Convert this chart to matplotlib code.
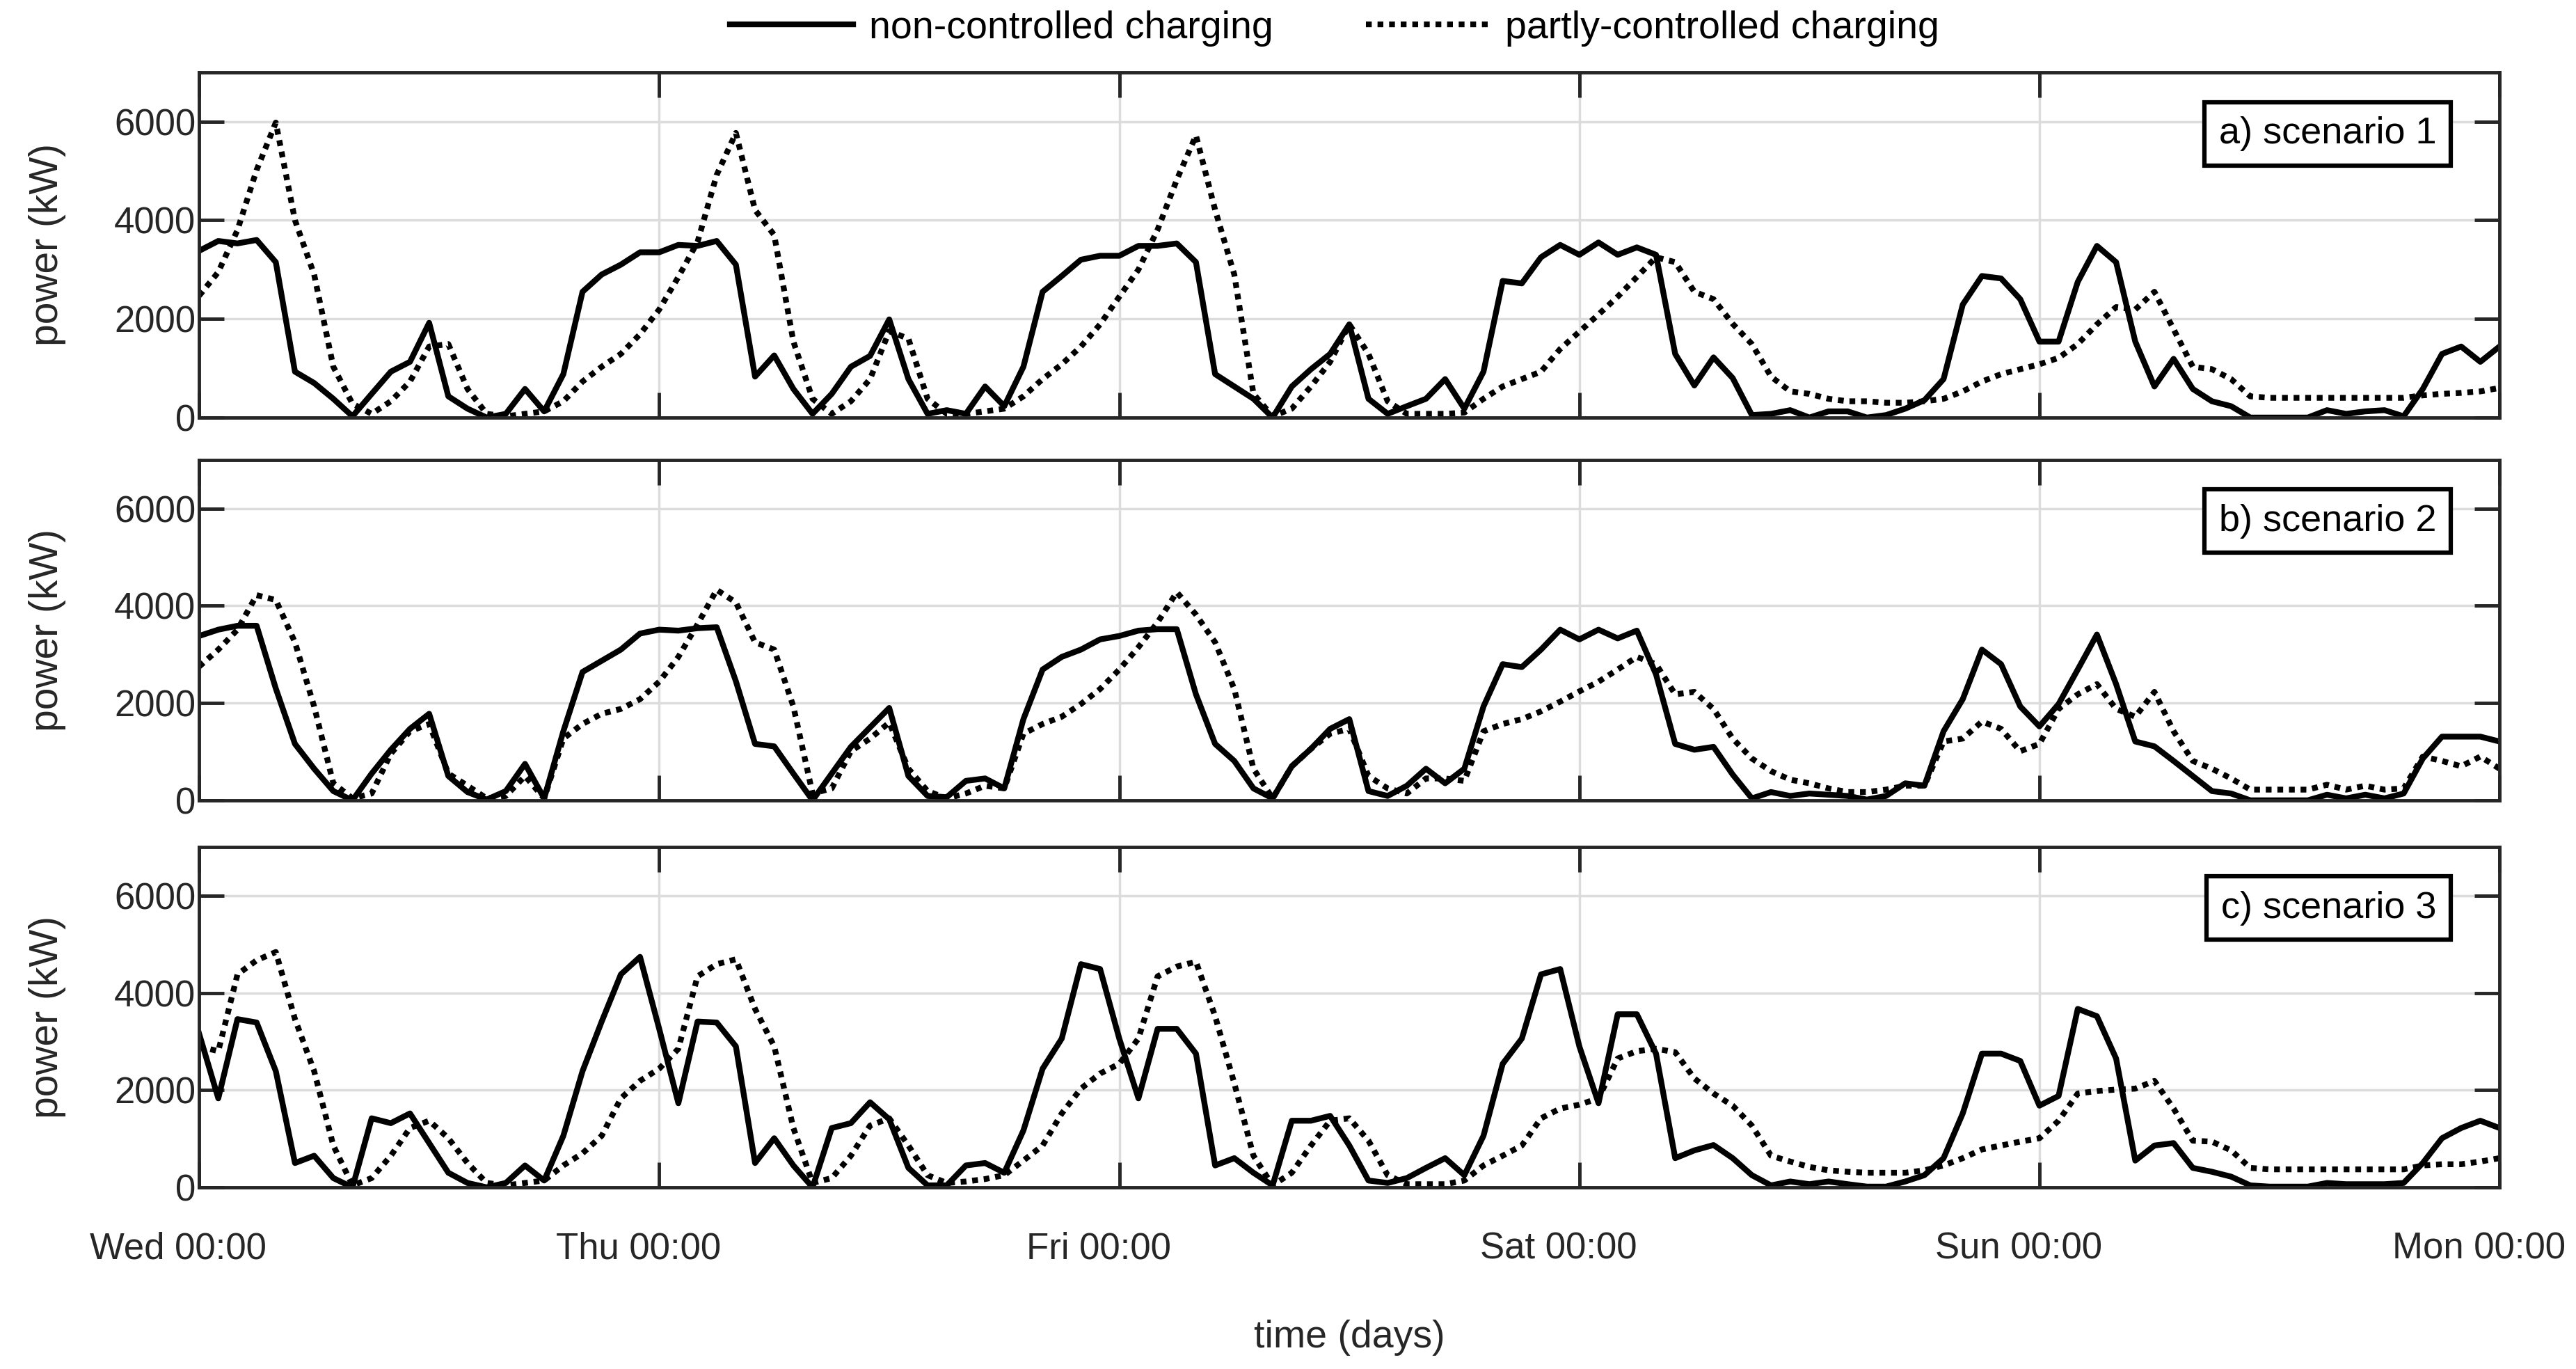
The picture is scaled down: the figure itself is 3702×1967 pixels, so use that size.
import numpy as np
import matplotlib
matplotlib.use('Agg')
import matplotlib.pyplot as plt
from matplotlib.transforms import ScaledTranslation

plt.rcParams['font.family'] = ['Liberation Sans', 'DejaVu Sans']

# hours since Wed 00:00, one value per hour
hours = list(range(0, 121))
day_ticks = [0, 24, 48, 72, 96, 120]
day_labels = ["Wed 00:00", "Thu 00:00", "Fri 00:00", "Sat 00:00", "Sun 00:00", "Mon 00:00"]
series_names = ["non-controlled charging", "partly-controlled charging"]
panel_titles = ["a) scenario 1", "b) scenario 2", "c) scenario 3"]

# scenario 1
s1_nc = [3380, 3580, 3530, 3600, 3150, 930, 700, 380, 25, 480, 930, 1130, 1920, 430, 180, 0, 75, 580, 125, 880, 2550, 2900, 3100, 3350,
         3350, 3500, 3480, 3580, 3100, 830, 1260, 580, 75, 480, 1030, 1250, 1990, 780, 75, 150, 75, 630, 230, 1030, 2550, 2870, 3200, 3280,
         3280, 3480, 3480, 3530, 3150, 880, 630, 380, 0, 630, 980, 1290, 1890, 380, 75, 230, 380, 780, 180, 930, 2770, 2720, 3250, 3500,
         3300, 3550, 3300, 3450, 3300, 1290, 650, 1220, 800, 50, 75, 150, 0, 125, 125, 0, 50, 180, 350, 780, 2290, 2870, 2820, 2400,
         1540, 1540, 2750, 3480, 3150, 1540, 630, 1190, 580, 330, 230, 0, 0, 0, 0, 150, 75, 125, 150, 25, 580, 1290, 1440, 1130, 1440]
s1_pc = [2470, 2950, 3800, 5020, 5980, 4000, 2900, 1030, 280, 75, 330, 730, 1440, 1490, 580, 75, 25, 75, 125, 330, 730, 1030, 1290, 1690,
         2190, 2850, 3560, 4920, 5770, 4210, 3700, 1540, 380, 75, 330, 780, 1750, 1600, 380, 75, 75, 125, 180, 430, 780, 1080, 1440, 1890,
         2450, 3000, 3810, 4820, 5720, 4210, 2900, 480, 25, 180, 630, 1130, 1890, 1290, 330, 75, 75, 75, 100, 380, 630, 780, 930, 1390,
         1740, 2090, 2450, 2850, 3250, 3150, 2550, 2400, 1900, 1490, 830, 530, 480, 380, 330, 330, 300, 300, 330, 380, 530, 730, 880, 980,
         1080, 1210, 1490, 1890, 2240, 2190, 2550, 1790, 1030, 980, 780, 430, 400, 400, 400, 400, 400, 400, 400, 400, 450, 480, 500, 530, 600]

# scenario 2
s2_nc = [3380, 3510, 3590, 3590, 2300, 1160, 650, 190, 0, 550, 1040, 1470, 1780, 500, 170, 15, 190, 750, 40, 1420, 2640, 2870, 3100, 3430,
         3510, 3490, 3540, 3560, 2450, 1160, 1110, 550, 0, 550, 1100, 1500, 1900, 500, 90, 65, 400, 450, 245, 1670, 2690, 2950, 3100, 3310,
         3380, 3490, 3520, 3520, 2180, 1160, 810, 245, 40, 700, 1060, 1470, 1670, 190, 90, 300, 650, 350, 650, 1930, 2800, 2740, 3100, 3510,
         3310, 3510, 3330, 3490, 2590, 1160, 1040, 1100, 530, 40, 170, 90, 140, 115, 90, 15, 90, 350, 300, 1420, 2080, 3100, 2800, 1930,
         1520, 1980, 2690, 3410, 2390, 1210, 1110, 810, 500, 190, 140, 0, 0, 0, 0, 115, 40, 115, 40, 140, 860, 1310, 1310, 1310, 1210]
s2_pc = [2750, 3100, 3510, 4220, 4120, 3250, 1930, 350, 40, 140, 960, 1420, 1570, 550, 300, 40, 90, 500, 40, 1270, 1570, 1780, 1880, 2080,
         2440, 2950, 3620, 4330, 4070, 3250, 3100, 1930, 140, 245, 1010, 1270, 1600, 650, 190, 40, 140, 300, 245, 1370, 1570, 1720, 1980, 2290,
         2690, 3150, 3660, 4280, 3820, 3250, 2290, 650, 40, 700, 1060, 1370, 1470, 500, 245, 140, 450, 450, 400, 1420, 1570, 1670, 1830, 2030,
         2240, 2440, 2690, 2950, 2800, 2180, 2230, 1880, 1270, 860, 600, 425, 350, 245, 170, 170, 220, 300, 300, 1210, 1270, 1620, 1470, 1010,
         1160, 1880, 2180, 2390, 1880, 1720, 2230, 1420, 810, 650, 450, 220, 220, 220, 220, 320, 220, 300, 220, 245, 900, 810, 700, 900, 650]

# scenario 3
s3_nc = [3160, 1830, 3460, 3390, 2390, 500, 650, 190, 0, 1420, 1320, 1520, 910, 300, 90, 0, 90, 450, 140, 1060, 2390, 3410, 4380, 4740,
         3260, 1730, 3410, 3390, 2900, 500, 1010, 450, 0, 1220, 1320, 1750, 1400, 400, 40, 40, 450, 500, 300, 1170, 2440, 3060, 4590, 4490,
         3060, 1830, 3260, 3260, 2750, 450, 600, 300, 40, 1370, 1370, 1470, 860, 140, 90, 190, 400, 600, 250, 1060, 2540, 3060, 4380, 4490,
         2900, 1730, 3560, 3560, 2750, 600, 760, 870, 600, 250, 40, 120, 65, 120, 65, 15, 15, 120, 250, 600, 1520, 2750, 2750, 2600,
         1680, 1880, 3670, 3520, 2650, 550, 860, 910, 400, 320, 220, 40, 15, 15, 15, 90, 65, 65, 65, 90, 500, 1010, 1220, 1370, 1220]
s3_pc = [2900, 2800, 4380, 4670, 4840, 3460, 2390, 860, 40, 190, 650, 1220, 1370, 1010, 500, 90, 40, 90, 140, 450, 700, 1060, 1830, 2190,
         2440, 2850, 4340, 4590, 4690, 3670, 2900, 1220, 90, 190, 650, 1270, 1420, 860, 250, 90, 120, 170, 250, 550, 860, 1520, 2030, 2340,
         2540, 3060, 4340, 4540, 4640, 3520, 2140, 650, 40, 300, 860, 1370, 1420, 960, 250, 65, 65, 65, 140, 450, 650, 860, 1420, 1620,
         1700, 1830, 2650, 2800, 2850, 2780, 2240, 1930, 1680, 1270, 650, 530, 420, 350, 320, 300, 300, 300, 350, 450, 600, 780, 860, 940,
         1010, 1370, 1930, 1980, 2010, 2030, 2190, 1620, 960, 940, 760, 400, 370, 370, 370, 370, 370, 370, 370, 370, 450, 475, 475, 530, 600]

data = [(s1_nc, s1_pc), (s2_nc, s2_pc), (s3_nc, s3_pc)]

dark = '#262626'
fig = plt.figure(figsize=(37.02, 19.67), dpi=100)

# axes rectangles [left, bottom, width, height]
rects = [[0.0773, 0.6950, 0.8930, 0.2522],
         [0.0773, 0.4154, 0.8930, 0.2486],
         [0.0773, 0.1327, 0.8930, 0.2486]]

for i, (nc, pc) in enumerate(data):
    ax = fig.add_axes(rects[i])
    ax.plot(hours, nc, color='black', lw=6, ls='-', label=series_names[0])
    ax.plot(hours, pc, color='black', lw=6, ls=(0, (1.0, 1.0)), label=series_names[1])
    ax.set_xlim(0, 120)
    ax.set_ylim(0, 7000)
    ax.set_xticks(day_ticks)
    ax.set_yticks([0, 2000, 4000, 6000])
    ax.set_axisbelow(True)
    ax.grid(True, color='#dcdcdc', lw=2.5)
    ax.tick_params(direction='in', length=26, width=3.5, color=dark,
                   labelcolor=dark, labelsize=38, top=True, right=True)
    ax.tick_params(axis='x', pad=46)
    if i < 2:
        ax.set_xticklabels([])
    else:
        ax.set_xticklabels(day_labels)
        # labels sit a bit left of their ticks in the original
        for lab in ax.get_xticklabels():
            lab.set_transform(lab.get_transform() + ScaledTranslation(-0.3, 0, fig.dpi_scale_trans))
        ax.set_xlabel("time (days)", fontsize=40, color=dark, labelpad=55)
    ax.set_ylabel("power (kW)", fontsize=41, color=dark, labelpad=50)
    for sp in ax.spines.values():
        sp.set_linewidth(3.5)
        sp.set_color(dark)
    ax.text(0.9725, 0.872, panel_titles[i], transform=ax.transAxes, ha='right', va='top',
            fontsize=39, color='black',
            bbox=dict(boxstyle='square,pad=0.38', fc='white', ec='black', lw=4.5))
    if i == 0:
        handles, labels = ax.get_legend_handles_labels()

fig.legend(handles, labels, loc='upper center', bbox_to_anchor=(0.518, 1.018), ncol=2,
           frameon=False, fontsize=40, handlelength=3.2, columnspacing=2.4, handletextpad=0.4)

fig.savefig('out.png', dpi=100)
